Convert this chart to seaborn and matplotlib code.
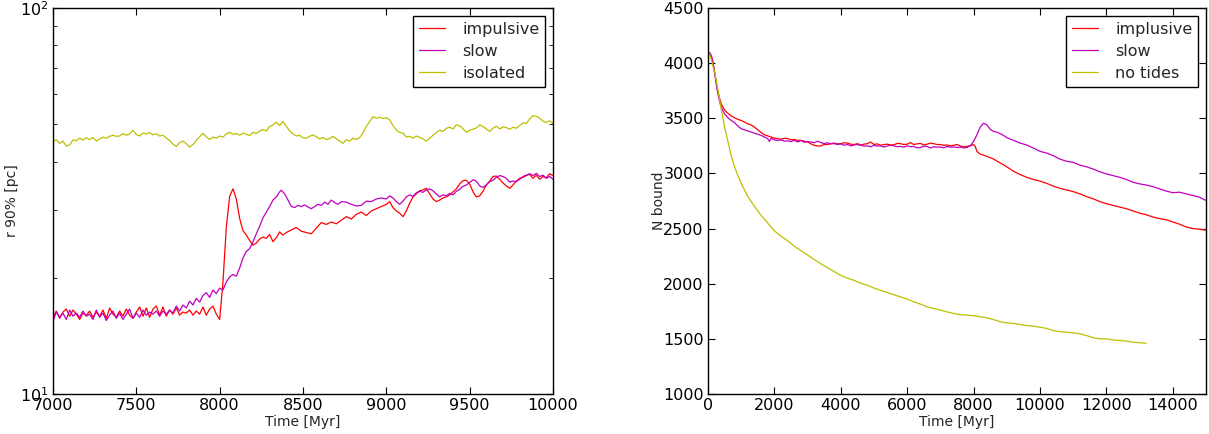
import numpy as np
import pandas as pd
import seaborn as sns
import matplotlib.pyplot as plt
from matplotlib.ticker import NullFormatter, MultipleLocator

# ---- left panel: r 90% vs time (log scale) ----
t_imp_l = [7000, 7020, 7040, 7060, 7080, 7100, 7120, 7140, 7160, 7180, 7200, 7220, 7240, 7260, 7280,
           7300, 7320, 7340, 7360, 7380, 7400, 7420, 7440, 7460, 7480, 7500, 7520, 7540, 7560, 7580,
           7600, 7620, 7640, 7660, 7680, 7700, 7720, 7740, 7760, 7780, 7800, 7820, 7840, 7860, 7880,
           7900, 7920, 7940, 7960, 7980, 8000, 8020, 8040, 8060, 8080, 8100, 8120, 8140, 8160, 8180,
           8200, 8220, 8240, 8260, 8280, 8300, 8320, 8340, 8360, 8380, 8400, 8430, 8460, 8490, 8520,
           8550, 8580, 8610, 8640, 8670, 8700, 8730, 8760, 8790, 8820, 8850, 8880, 8910, 8940, 8970,
           9000, 9020, 9040, 9060, 9080, 9100, 9120, 9140, 9160, 9180, 9200, 9220, 9240, 9260, 9280,
           9300, 9320, 9340, 9360, 9380, 9400, 9420, 9440, 9460, 9480, 9500, 9520, 9540, 9560, 9580,
           9600, 9620, 9640, 9660, 9680, 9700, 9720, 9740, 9760, 9780, 9800, 9820, 9840, 9860, 9880,
           9900, 9920, 9940, 9960, 9980, 10000]
r_imp_l = [15.8, 16.4, 15.7, 16.3, 16.6, 15.9, 16.5, 16.1, 15.6, 16.2, 16.0, 16.4, 15.8, 16.3, 15.9,
           16.5, 15.7, 16.7, 16.1, 15.8, 16.4, 15.9, 16.6, 16.0, 15.7, 16.3, 16.8, 15.9, 16.7, 15.8,
           16.6, 16.9, 16.0, 16.8, 15.9, 16.5, 16.1, 16.7, 16.0, 16.3, 16.2, 16.5, 16.0, 16.4, 16.1,
           16.8, 16.0, 16.6, 16.9, 16.1, 15.6, 19.5, 27.0, 32.5, 34.0, 32.0, 28.5, 26.5, 25.8, 25.0,
           24.3, 24.6, 25.2, 25.5, 25.3, 25.9, 24.8, 25.4, 26.3, 25.8, 26.2, 26.6, 27.0, 26.4, 26.2,
           26.0, 26.9, 27.8, 27.5, 27.9, 27.6, 28.2, 28.8, 28.4, 29.2, 29.6, 29.0, 29.8, 30.2, 30.6,
           31.0, 31.5, 30.4, 29.8, 29.4, 28.8, 29.8, 31.2, 32.4, 33.0, 33.6, 33.8, 34.1, 33.0, 32.0,
           31.5, 31.8, 32.2, 32.4, 32.8, 33.4, 34.0, 35.0, 35.7, 35.8, 35.0, 33.4, 32.4, 32.6, 33.5,
           34.8, 35.6, 36.6, 36.7, 36.0, 35.2, 34.6, 34.1, 34.8, 35.6, 36.2, 36.4, 36.8, 37.1, 36.2,
           36.9, 36.0, 36.6, 36.3, 37.2, 36.8]

t_slow_l = [7000, 7020, 7040, 7060, 7080, 7100, 7120, 7140, 7160, 7180, 7200, 7220, 7240, 7260, 7280,
            7300, 7320, 7340, 7360, 7380, 7400, 7420, 7440, 7460, 7480, 7500, 7520, 7540, 7560, 7580,
            7600, 7620, 7640, 7660, 7680, 7700, 7720, 7740, 7760, 7780, 7800, 7820, 7840, 7860, 7880,
            7900, 7920, 7940, 7960, 7980, 8000, 8020, 8040, 8060, 8080, 8100, 8120, 8140, 8160, 8180,
            8200, 8220, 8240, 8260, 8280, 8300, 8320, 8340, 8360, 8370, 8390, 8410, 8430, 8450, 8470,
            8490, 8510, 8530, 8550, 8570, 8590, 8610, 8630, 8650, 8670, 8690, 8710, 8730, 8760, 8790,
            8820, 8850, 8880, 8910, 8940, 8970, 9000, 9020, 9040, 9060, 9080, 9100, 9120, 9140, 9160,
            9180, 9200, 9220, 9240, 9260, 9280, 9300, 9320, 9340, 9360, 9380, 9400, 9420, 9440, 9460,
            9480, 9500, 9520, 9540, 9560, 9580, 9600, 9620, 9640, 9660, 9680, 9700, 9720, 9740, 9760,
            9780, 9800, 9820, 9840, 9860, 9880, 9900, 9920, 9940, 9960, 9980, 10000]
r_slow_l = [15.4, 16.3, 15.8, 16.2, 15.6, 16.5, 15.9, 16.2, 15.8, 16.4, 15.9, 16.1, 15.6, 16.5, 15.8,
            16.2, 15.5, 16.0, 16.4, 15.7, 16.2, 15.6, 16.1, 16.6, 15.7, 16.2, 15.8, 16.5, 16.0, 16.3,
            16.1, 16.4, 15.9, 16.4, 16.1, 16.5, 16.2, 16.9, 16.4, 17.0, 16.7, 17.4, 17.0, 17.7, 17.3,
            18.0, 18.3, 17.8, 18.6, 18.2, 18.8, 18.6, 19.5, 20.1, 20.4, 20.2, 21.2, 22.5, 23.4, 23.8,
            24.8, 26.0, 27.2, 28.6, 29.6, 30.6, 31.8, 32.4, 33.4, 33.7, 33.0, 31.8, 30.6, 30.4, 30.8,
            30.6, 30.9, 30.5, 30.2, 30.6, 31.0, 30.8, 31.4, 31.0, 31.8, 31.3, 31.0, 31.5, 31.4, 31.0,
            30.7, 30.8, 31.6, 31.5, 32.0, 32.2, 32.0, 32.6, 32.2, 31.5, 31.0, 31.6, 32.4, 32.8, 32.5,
            33.2, 33.5, 33.3, 33.8, 34.0, 33.6, 33.0, 32.4, 32.8, 32.6, 33.1, 32.8, 33.5, 33.9, 34.5,
            34.8, 35.3, 35.9, 35.6, 34.6, 34.3, 34.8, 35.5, 35.8, 36.4, 36.8, 36.6, 36.2, 35.4, 35.6,
            35.5, 36.0, 36.6, 36.9, 37.2, 36.8, 37.3, 36.6, 36.9, 36.2, 36.6, 36.0]

t_iso_l = list(range(7000, 10001, 20))
r_iso_l = [45.0, 45.6, 44.6, 45.2, 43.9, 44.2, 45.5, 45.3, 46.0, 45.5, 46.1, 45.6, 46.2, 45.2, 45.8,
           46.3, 46.0, 46.5, 46.8, 46.5, 46.6, 47.3, 46.8, 47.2, 48.2, 47.0, 46.6, 47.4, 47.2, 47.6,
           46.9, 47.2, 46.6, 46.8, 46.0, 45.4, 44.4, 43.8, 44.8, 45.2, 44.5, 43.6, 44.3, 45.4, 46.4,
           47.3, 46.4, 45.6, 46.3, 46.0, 46.6, 46.3, 47.2, 47.6, 47.1, 47.3, 46.8, 47.4, 47.1, 46.7,
           47.6, 47.3, 48.0, 48.4, 48.0, 49.3, 49.8, 50.6, 49.6, 50.8, 49.4, 48.0, 47.2, 46.6, 46.8,
           46.1, 46.0, 46.5, 46.9, 46.4, 45.8, 46.2, 45.6, 45.9, 46.5, 45.8, 45.2, 44.6, 45.6, 45.2,
           46.0, 45.6, 46.2, 47.4, 49.4, 50.8, 52.3, 51.8, 52.1, 51.7, 52.0, 51.3, 49.6, 48.3, 47.6,
           47.4, 46.3, 46.5, 46.0, 46.6, 46.2, 45.8, 45.2, 46.0, 46.8, 47.6, 48.2, 47.9, 48.8, 49.1,
           48.6, 49.8, 49.5, 48.7, 47.6, 48.2, 48.5, 48.9, 49.8, 49.3, 48.6, 47.9, 48.8, 49.4, 48.6,
           49.2, 49.0, 48.5, 49.1, 48.8, 49.6, 50.4, 50.2, 51.6, 52.6, 52.4, 51.8, 50.9, 50.5, 51.0,
           50.2]

# ---- right panel: N bound vs time ----
t_imp_r = [0, 50, 100, 150, 200, 250, 300, 350, 400, 500, 600, 700, 800, 900, 1000, 1100, 1200, 1300,
           1400, 1500, 1600, 1700, 1800, 1900, 2000, 2100, 2200, 2300, 2400, 2500, 2600, 2700, 2800,
           2900, 3000, 3100, 3200, 3300, 3400, 3500, 3600, 3700, 3800, 3900, 4000, 4100, 4200, 4300,
           4400, 4500, 4600, 4700, 4800, 4900, 5000, 5100, 5200, 5300, 5400, 5500, 5600, 5700, 5800,
           5900, 6000, 6100, 6200, 6300, 6400, 6500, 6600, 6700, 6800, 6900, 7000, 7100, 7200, 7300,
           7400, 7500, 7600, 7700, 7800, 7900, 8000, 8050, 8100, 8200, 8400, 8600, 8800, 9000, 9200,
           9400, 9600, 9800, 10000, 10200, 10400, 10600, 10800, 11000, 11200, 11400, 11600, 11800,
           12000, 12200, 12400, 12600, 12800, 13000, 13200, 13400, 13600, 13800, 14000, 14200, 14400,
           14600, 14800, 15000]
n_imp_r = [4100, 4095, 4070, 4010, 3920, 3820, 3740, 3680, 3630, 3575, 3545, 3520, 3505, 3490, 3480,
           3465, 3450, 3440, 3420, 3395, 3370, 3350, 3340, 3330, 3320, 3315, 3310, 3318, 3315, 3305,
           3308, 3300, 3300, 3292, 3285, 3268, 3255, 3248, 3250, 3262, 3262, 3270, 3275, 3268, 3270,
           3278, 3275, 3265, 3262, 3270, 3258, 3265, 3270, 3285, 3262, 3268, 3255, 3262, 3265, 3258,
           3260, 3272, 3270, 3262, 3265, 3280, 3262, 3268, 3272, 3258, 3265, 3275, 3270, 3262, 3262,
           3255, 3258, 3250, 3255, 3262, 3250, 3240, 3245, 3252, 3262, 3245, 3200, 3175, 3155, 3130,
           3095, 3060, 3020, 2990, 2965, 2945, 2930, 2910, 2885, 2865, 2850, 2835, 2815, 2790, 2770,
           2745, 2725, 2710, 2695, 2680, 2660, 2640, 2625, 2605, 2590, 2580, 2560, 2540, 2515, 2500,
           2495, 2485]

t_slow_r = [0, 50, 100, 150, 200, 250, 300, 350, 400, 500, 600, 700, 800, 900, 1000, 1100, 1200, 1300,
            1400, 1500, 1600, 1700, 1800, 1850, 1900, 2000, 2100, 2200, 2300, 2400, 2500, 2600, 2700,
            2800, 2900, 3000, 3100, 3200, 3300, 3400, 3500, 3600, 3700, 3800, 3900, 4000, 4100, 4200,
            4300, 4400, 4500, 4600, 4700, 4800, 4900, 5000, 5100, 5200, 5300, 5400, 5500, 5600, 5700,
            5800, 5900, 6000, 6100, 6200, 6300, 6400, 6500, 6600, 6700, 6800, 6900, 7000, 7100, 7200,
            7300, 7400, 7500, 7600, 7700, 7800, 7900, 8000, 8100, 8200, 8300, 8400, 8500, 8600, 8700,
            8800, 8900, 9000, 9200, 9400, 9600, 9800, 10000, 10200, 10400, 10600, 10800, 11000, 11200,
            11400, 11600, 11800, 12000, 12200, 12400, 12600, 12800, 13000, 13200, 13400, 13600, 13800,
            14000, 14200, 14400, 14600, 14800, 15000]
n_slow_r = [4100, 4090, 4060, 4000, 3910, 3810, 3720, 3650, 3600, 3540, 3505, 3480, 3460, 3430, 3405,
            3395, 3385, 3375, 3365, 3355, 3345, 3330, 3315, 3290, 3318, 3305, 3298, 3305, 3292, 3295,
            3288, 3300, 3285, 3298, 3282, 3290, 3285, 3278, 3292, 3280, 3270, 3278, 3268, 3270, 3262,
            3268, 3255, 3262, 3250, 3258, 3262, 3255, 3248, 3250, 3242, 3255, 3248, 3250, 3240, 3248,
            3255, 3250, 3242, 3245, 3238, 3250, 3242, 3245, 3232, 3235, 3248, 3245, 3230, 3242, 3238,
            3240, 3232, 3245, 3238, 3240, 3235, 3238, 3232, 3235, 3250, 3290, 3350, 3420, 3455, 3440,
            3400, 3380, 3375, 3360, 3345, 3325, 3300, 3275, 3258, 3230, 3200, 3185, 3160, 3130, 3110,
            3100, 3075, 3060, 3040, 3015, 2995, 2980, 2965, 2945, 2920, 2905, 2895, 2880, 2860, 2840,
            2825, 2830, 2815, 2800, 2785, 2755]

t_iso_r = [0, 50, 100, 150, 200, 300, 400, 500, 600, 700, 800, 900, 1000, 1200, 1400, 1600, 1800, 2000,
           2200, 2400, 2600, 2800, 3000, 3200, 3400, 3600, 3800, 4000, 4200, 4400, 4600, 4800, 5000,
           5200, 5400, 5600, 5800, 6000, 6200, 6400, 6600, 6800, 7000, 7200, 7400, 7600, 7800, 8000,
           8200, 8400, 8600, 8800, 9000, 9200, 9400, 9600, 9800, 10000, 10200, 10400, 10600, 10800,
           11000, 11200, 11400, 11600, 11800, 12000, 12200, 12400, 12600, 12800, 13000, 13200]
n_iso_r = [4100, 4080, 4030, 3970, 3920, 3760, 3580, 3420, 3290, 3160, 3060, 2980, 2910, 2790, 2700,
           2620, 2550, 2480, 2430, 2390, 2340, 2300, 2260, 2220, 2180, 2145, 2110, 2075, 2050, 2030,
           2005, 1985, 1960, 1940, 1920, 1900, 1880, 1860, 1835, 1815, 1790, 1775, 1760, 1745, 1730,
           1720, 1715, 1710, 1700, 1690, 1675, 1655, 1645, 1640, 1630, 1620, 1615, 1605, 1595, 1575,
           1565, 1560, 1555, 1545, 1530, 1510, 1500, 1500, 1490, 1485, 1480, 1470, 1465, 1460]

RED, MAG, YEL = '#ff0000', '#bf00bf', '#bfbf00'

sns.set_style('ticks')
plt.rcParams.update({
    'font.family': ['DejaVu Sans'],
    'xtick.direction': 'in', 'ytick.direction': 'in',
    'xtick.top': True, 'ytick.right': True,
    'xtick.major.size': 5, 'ytick.major.size': 5,
    'ytick.minor.size': 3, 'xtick.minor.size': 3,
    'axes.edgecolor': 'black', 'axes.linewidth': 1.0,
    'xtick.color': 'black', 'ytick.color': 'black',
    'xtick.labelsize': 11.5, 'ytick.labelsize': 11.5,
})

fig = plt.figure(figsize=(12.09, 4.34), dpi=100)
ax1 = fig.add_axes([0.0438, 0.0922, 0.4136, 0.8894])
ax2 = fig.add_axes([0.5856, 0.0922, 0.4119, 0.8894])

lw = 0.9
sns.lineplot(x=t_imp_l, y=r_imp_l, ax=ax1, color=RED, lw=lw, label='impulsive')
sns.lineplot(x=t_slow_l, y=r_slow_l, ax=ax1, color=MAG, lw=lw, label='slow')
sns.lineplot(x=t_iso_l, y=r_iso_l, ax=ax1, color=YEL, lw=lw, label='isolated')
ax1.set_yscale('log')
ax1.set_ylim(10, 100)
ax1.set_xlim(7000, 10000)
ax1.xaxis.set_major_locator(MultipleLocator(500))
ax1.yaxis.set_minor_formatter(NullFormatter())
ax1.set_xlabel('Time [Myr]', fontsize=10, labelpad=1)
ax1.set_ylabel('r 90% [pc]', fontsize=10)
ax1.yaxis.set_label_coords(-0.068, 0.5)

sns.lineplot(x=t_imp_r, y=n_imp_r, ax=ax2, color=RED, lw=lw, label='implusive')
sns.lineplot(x=t_slow_r, y=n_slow_r, ax=ax2, color=MAG, lw=lw, label='slow')
sns.lineplot(x=t_iso_r, y=n_iso_r, ax=ax2, color=YEL, lw=lw, label='no tides')
ax2.set_xlim(0, 15000)
ax2.set_ylim(1000, 4500)
ax2.xaxis.set_major_locator(MultipleLocator(2000))
ax2.yaxis.set_major_locator(MultipleLocator(500))
ax2.set_xlabel('Time [Myr]', fontsize=10, labelpad=1)
ax2.set_ylabel('N bound', fontsize=10)
ax2.yaxis.set_label_coords(-0.084, 0.5)

for ax in (ax1, ax2):
    ax.tick_params(axis='both', which='major', pad=3)
    leg = ax.legend(loc='upper right', fontsize=11.5, frameon=True, fancybox=False,
                    framealpha=1, edgecolor='black', handlelength=1.6, handletextpad=1.1,
                    labelspacing=0.45, borderaxespad=0.5, borderpad=0.35)
    leg.get_frame().set_linewidth(1.0)

fig.savefig('out.png', dpi=100)
